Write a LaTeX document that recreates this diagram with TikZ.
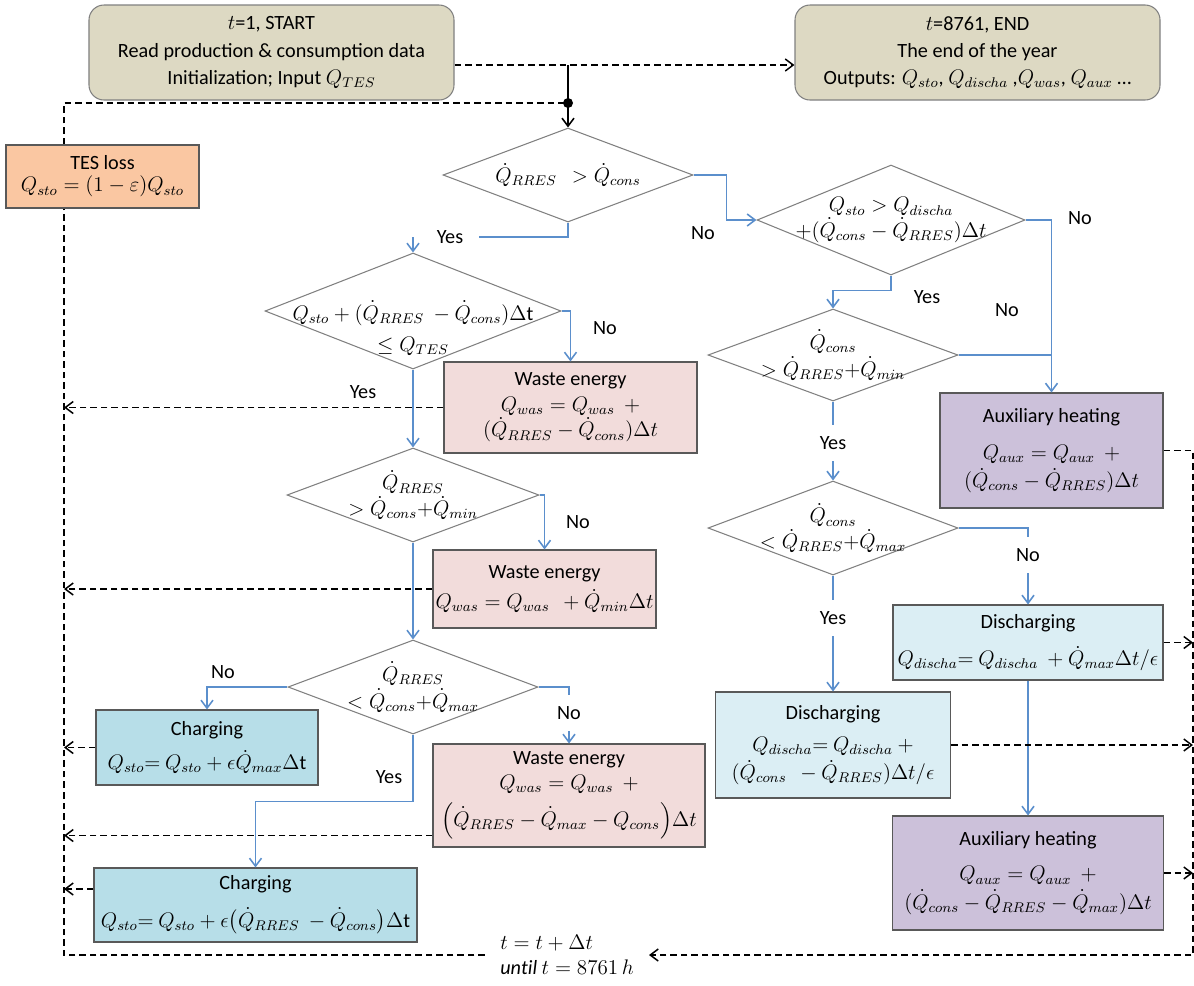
\documentclass[tikz,border=0pt]{standalone}
\usepackage{amsmath,amssymb}
\usepackage{fontspec}
\setmainfont{Carlito}
\usepackage{tikz}
\usetikzlibrary{arrows.meta,positioning,calc,shapes.geometric}
\definecolor{tanfill}{HTML}{DDD9C3}
\definecolor{tesfill}{HTML}{FAC7A2}
\definecolor{wastefill}{HTML}{F2DCDB}
\definecolor{auxfill}{HTML}{CCC1DA}
\definecolor{chargefill}{HTML}{B7DEE8}
\definecolor{disfill}{HTML}{DBEEF4}
\definecolor{flowblue}{HTML}{5B8FCC}
\definecolor{boxline}{HTML}{595959}
\definecolor{decline}{HTML}{808080}
\newcommand{\fs}{\fontsize{11.5}{14.5}\selectfont}
\newcommand{\Qd}{\dot{Q}}

\begin{document}
\begin{tikzpicture}[x=0.2mm,y=-0.2mm,>={Straight Barb[length=1.6mm,width=2.4mm]},
      box/.style={draw=boxline,line width=0.6pt,align=center,inner sep=0pt,font=\fs},
      term/.style={box,draw=decline,rounded corners=3mm,fill=tanfill,
        minimum width=73mm,minimum height=19mm},
      dec/.style={diamond,draw=decline,line width=0.6pt,fill=white,inner sep=0pt},
      dtext/.style={font=\fs,align=center,inner sep=0pt},
      flowline/.style={draw=flowblue,line width=0.9pt},
      flow/.style={flowline,->},
      back/.style={line width=0.85pt,dash pattern=on 1.3mm off 0.8mm},
      lbl/.style={font=\fs,inner sep=1pt},
      gap/.style={lbl,fill=white,inner xsep=1mm,inner ysep=2.2mm}]
    \useasboundingbox (0,0) rectangle (1194,985);
    % start / end
    \node[term] (start) at (271.5,52.5) {$t$=1, START\\[1pt]Read production \& consumption data\\[1pt]Initialization; Input $Q_{TES}$};
    \node[term] (end) at (977.5,52.5) {$t$=8761, END\\[1pt]The end of the year\\[1pt]Outputs: $Q_{sto}$, $Q_{discha}$ ,$Q_{was}$, $Q_{aux}$ \dots};
    \coordinate (split) at (568,65);
    \coordinate (junc) at (568,103);
    \coordinate (loopBL) at (64,955);
    \coordinate (loopBR) at (1193,955);
    \node[box,fill=tesfill,minimum width=38.6mm,minimum height=12.6mm] (tes) at (102.5,176.5) {TES loss\\[-2pt]$Q_{sto} = (1-\varepsilon)Q_{sto}$};
    % decisions
    \node[dec,minimum width=50mm,minimum height=18.8mm,
      label={[dtext]center:{$\Qd_{RRES}\ \ > \Qd_{cons}$}}] (d1) at (568,175) {};
    \node[dec,minimum width=59.2mm,minimum height=23.2mm,
      label={[dtext,yshift=-3.4mm]center:{$Q_{sto} + (\Qd_{RRES}\ - \Qd_{cons})\Delta\mathrm{t}$\\[3pt]$\le Q_{TES}$}}] (d2) at (413,311) {};
    \node[dec,minimum width=50.4mm,minimum height=18.8mm,
      label={[dtext]center:{$\Qd_{RRES}$\\$> \Qd_{cons}{+}\Qd_{min}$}}] (d3) at (413,495) {};
    \node[dec,minimum width=50mm,minimum height=18.8mm,
      label={[dtext]center:{$\Qd_{RRES}$\\[1pt]$< \Qd_{cons}{+}\Qd_{max}$}}] (d4) at (413,687) {};
    \node[dec,minimum width=53.6mm,minimum height=22mm,
      label={[dtext]center:{$Q_{sto} > Q_{discha}$\\$+(\Qd_{cons} - \Qd_{RRES})\Delta t$}}] (d5) at (891,220) {};
    \node[dec,minimum width=50mm,minimum height=18.4mm,
      label={[dtext]center:{$\Qd_{cons}$\\[1pt]$> \Qd_{RRES}{+}\Qd_{min}$}}] (d6) at (833,355) {};
    \node[dec,minimum width=50mm,minimum height=18.8mm,
      label={[dtext]center:{$\Qd_{cons}$\\$< \Qd_{RRES}{+}\Qd_{max}$}}] (d7) at (833,528) {};
    % actions
    \node[box,fill=wastefill,minimum width=50.6mm,minimum height=18.2mm] (waste1) at (570.5,407.5) {Waste energy\\$Q_{was} = Q_{was}\ \ +$\\$(\Qd_{RRES} - \Qd_{cons})\Delta t$};
    \node[box,fill=wastefill,minimum width=44.6mm,minimum height=15.6mm] (waste2) at (544.5,589) {Waste energy\\[2.5pt]$Q_{was} = Q_{was}\ \ + \Qd_{min}\Delta t$};
    \node[box,fill=wastefill,minimum width=54.4mm,minimum height=20.6mm] (waste3) at (569,795.5) {Waste energy\\$Q_{was} = Q_{was}\ \ +$\\[3.5pt]$\Bigl(\Qd_{RRES} - \Qd_{max} - Q_{cons}\Bigr)\Delta t$};
    \node[box,fill=chargefill,minimum width=44.4mm,minimum height=15mm] (charge1) at (207,747.5) {Charging\\[5pt]$Q_{sto}{=}\ Q_{sto} + \epsilon\Qd_{max}\Delta\mathrm{t}$};
    \node[box,fill=chargefill,minimum width=64.6mm,minimum height=14.8mm] (charge2) at (255.5,905) {Charging\\[7pt]$Q_{sto}{=}\ Q_{sto} + \epsilon\bigl(\Qd_{RRES}\ - \Qd_{cons}\bigr)\Delta\mathrm{t}$};
    \node[box,fill=auxfill,minimum width=44.6mm,minimum height=23mm] (aux1) at (1051.5,450.5) {Auxiliary heating\\[6.5pt]$Q_{aux} = Q_{aux}\ \ +$\\[1.5pt]$(\Qd_{cons} - \Qd_{RRES})\Delta t$};
    \node[box,fill=disfill,minimum width=54mm,minimum height=15mm] (dis1) at (1028,642.5) {Discharging\\[7pt]$Q_{discha}{=}\ Q_{discha}\ + \Qd_{max}\Delta t/\epsilon$};
    \node[box,fill=disfill,minimum width=47mm,minimum height=21.2mm] (dis2) at (833,745) {Discharging\\[4pt]$Q_{discha}{=}\ Q_{discha}\ +$\\[1.5pt]$(\Qd_{cons}\ \ - \Qd_{RRES})\Delta t/\epsilon$};
    \node[box,fill=auxfill,minimum width=54.2mm,minimum height=22.8mm] (aux2) at (1028,873) {Auxiliary heating\\[5.5pt]$Q_{aux} = Q_{aux}\ \ +$\\[1.5pt]$(\Qd_{cons} - \Qd_{RRES} - \Qd_{max})\Delta t$};
    \node[font=\fs,align=left,inner xsep=3mm,inner ysep=0pt] (tnext) at (567,955) {$t = t + \Delta t$\\$\mathit{until}\ t = 8761\,h$};
    \coordinate (w3out) at ($(waste3.west)+(0,40)$);
    \coordinate (c2out) at ($(charge2.west)+(0,-16)$);
    % labels
    \node[lbl,inner xsep=3mm] (yes1) at (450,237) {Yes};
    \node[lbl] (no1) at (703,233) {No};
    % flow connectors
    \draw[line width=0.9pt,->] (split) -- (d1.north);
    \fill (junc) circle (1mm);
    \draw[flowline] (d1.south) |- (yes1.east);
    \draw[flow] (yes1 -| d2.north) -- (d2.north);
    \draw[flow] (d1.east) -| ($(d5.west)+(-30,0)$) -- (d5.west);
    \draw[flow] (d2.east) -| (waste1.north);
    \draw[flow] (d2.south) -- (d3.north);
    \draw[flow] (d3.east) -| (waste2.north);
    \draw[flow] (d3.south) -- (d4.north);
    \draw[flow] (d4.west) -| (charge1.north);
    \draw[flow] (d4.east) -| (waste3.north);
    \draw[flow] (d4.south) -- ++(0,67) -| (charge2.north);
    \draw[flow] (d5.east) -| (aux1.north);
    \draw[flowline] (d6.east) -- (d6.east -| aux1.north);
    \draw[flow] (d5.south) -- ++(0,15) -| (d6.north);
    \draw[flow] (d6.south) -- (d7.north);
    \draw[flow] (d7.east) -| (dis1.north);
    \draw[flow] (d7.south) -- (dis2.north);
    \draw[flow] (dis1.south) -- (aux2.north);
    % time loop
    \draw[back,->] (start.east |- split) -- (end.west |- split);
    \draw[back] (tnext.west) -- (loopBL) -- (tes.south -| loopBL);
    \draw[back] (tes.north -| loopBL) |- (junc);
    \draw[back,->] (aux1.east) -| (loopBR) -- (tnext.east);
    \draw[back,->] (dis1.east) -- (dis1.east -| loopBR);
    \draw[back,->] (dis2.east) -- (dis2.east -| loopBR);
    \draw[back,->] (aux2.east) -- (aux2.east -| loopBR);
    \draw[back,->] (waste1.west) -- (waste1.west -| loopBL);
    \draw[back,->] (waste2.west) -- (waste2.west -| loopBL);
    \draw[back,->] (w3out) -- (w3out -| loopBL);
    \draw[back,->] (charge1.west) -- (charge1.west -| loopBL);
    \draw[back,->] (c2out) -- (c2out -| loopBL);
    % branch labels
    \node[lbl] (no2) at (605,328) {No};
    \node[lbl] (yes2) at (363,392) {Yes};
    \node[lbl] (no3) at (578,522) {No};
    \node[lbl] (no4l) at (223,672) {No};
    \node[gap] (no4r) at (569,713) {No};
    \node[lbl] (yes4) at (389,777) {Yes};
    \node[lbl] (no5) at (1080,218) {No};
    \node[lbl] (yes5) at (927,297) {Yes};
    \node[lbl] (no6) at (1007,310) {No};
    \node[gap] (yes6) at (833,443) {Yes};
    \node[gap] (no7) at (1028,555) {No};
    \node[gap] (yes7) at (833,618) {Yes};
  \end{tikzpicture}
\end{document}
